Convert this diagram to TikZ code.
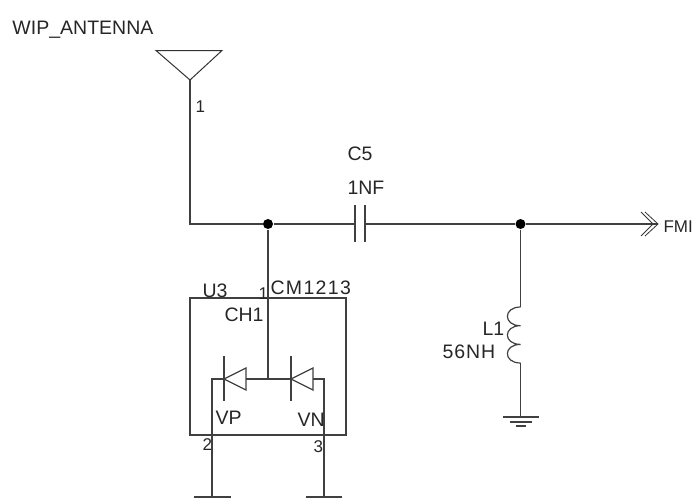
\documentclass[tikz,border=0pt]{standalone}
\usepackage{fontspec}
\setmainfont{Liberation Sans}
\begin{document}
\begin{tikzpicture}[x=1pt,y=-1pt,line width=1pt,color=black!80,
   etiquette/.style={anchor=base west,inner sep=0pt,font=\fontsize{19.5}{22}\selectfont,text=black!85},
   broche/.style={anchor=base west,inner sep=0pt,font=\fontsize{17}{19}\selectfont,text=black!85},
   jonction/.style={circle,fill=black,draw=none,inner sep=0pt,minimum size=10pt},
   fil/.style={line width=1.2pt,black!75}]

  \useasboundingbox (0,0) rectangle (693,501);

  % points of the net
  \coordinate (ant) at (190,80);
  \coordinate (coin) at (190,224);
  \node[jonction](j1) at (268,224) {};
  \coordinate (c5g) at (355,224);
  \coordinate (c5d) at (365,224);
  \node[jonction](j2) at (520.5,224) {};
  \coordinate (fmi) at (657,224);
  \coordinate (l1h) at (520.5,307);
  \coordinate (l1b) at (520.5,363);
  \coordinate (gnd) at (520.5,417);
  \coordinate (ch1) at (268,379);
  \coordinate (gvp) at (212,497);
  \coordinate (gvn) at (324,497);
  \coordinate (d1) at (224,379);
  \coordinate (d1b) at (246,379);
  \coordinate (d2) at (291,379);
  \coordinate (d2b) at (313,379);

  % wires
  \draw[fil] (ant) -- (coin) -- (j1) -- (c5g);
  \draw[fil] (c5d) -- (j2) -- (fmi);
  \draw[fil] (j1) -- (ch1);
  \draw[fil] (j2) -- (l1h);
  \draw[fil] (l1b) -- (gnd);
  \draw[fil] (gvp) |- (d1);
  \draw[fil] (gvn) |- (d2b);
  \draw[fil] (d1b) -- (d2);

  % antenna, capacitor, chevrons
  \draw (156,50.5) -- (222,50.5) -- (ant) -- cycle;
  \foreach \x in {355,365} \draw[fil] (\x,205) -- (\x,242);
  \draw[line width=0.8pt] (641,212) -- (653,224) -- (641,236);
  \draw[line width=0.8pt] (645,212) -- (658,224) -- (645,236);

  % U3 with its diodes
  \draw[fil] (190,298) rectangle (346,435);
  \foreach \a/\b in {d1/d1b,d2/d2b} {
    \draw[fil] (\a) ++(0,-23) -- ++(0,45);
    \draw[fil] (\a) -- ([yshift=11pt]\b) -- ([yshift=-11pt]\b) -- cycle;
  }

  % inductor
  \draw[fil] (l1h) .. controls (503,307) and (503,325.7) .. (520.5,325.7)
    .. controls (503,325.7) and (503,344.4) .. (520.5,344.4)
    .. controls (503,344.4) and (503,363) .. (l1b);

  % grounds
  \draw[fil] (503,417) -- (539,417);
  \draw[fil] (510,422) -- (532,422);
  \draw[fil] (516,426) -- (526,426);
  \draw[fil] (194,497) -- (231,497);
  \draw[fil] (306,497) -- (342,497);

  % texts
  \foreach \nom/\x/\y/\texte in {wip/12/34/WIP\_ANTENNA,c5/347/160/C5,nf/347/194/1NF,
     u3/202/297/U3,cm/270/294/\addfontfeature{LetterSpace=7}CM1213,ch/224/321/CH1,
     pv/215/424/VP,nv/297/426/VN,l/482/335/L1,nh/442/358/\addfontfeature{LetterSpace=5}56NH}
    \node[etiquette](\nom) at (\x,\y) {\texte};
  \foreach \nom/\x/\y/\texte in {pin/195/112/1,pa/258/299/1,pb/202/450/2,pc/313/452/3,fm/663/232/FMI}
    \node[broche](\nom) at (\x,\y) {\texte};
\end{tikzpicture}
\end{document}
